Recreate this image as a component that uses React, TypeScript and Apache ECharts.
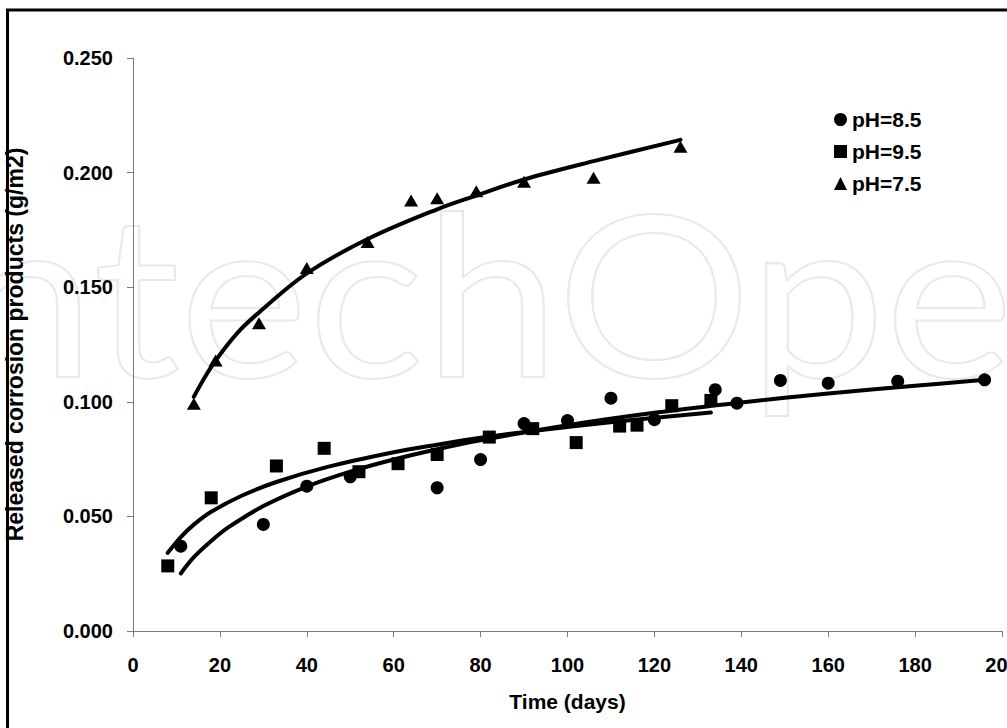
import React, { useEffect, useRef } from "react";
import * as echarts from "echarts";

// Measured points (Time in days, released corrosion products in g/m2)
const ph85X = [11, 30, 40, 50, 70, 80, 90, 100, 110, 120, 134, 139, 149, 160, 176, 196];
const ph85Y = [0.037, 0.0465, 0.0632, 0.0673, 0.0625, 0.0748, 0.0905, 0.0918, 0.1016, 0.0922, 0.1053, 0.0994, 0.1093, 0.1081, 0.109, 0.1096];

const ph95X = [8, 18, 33, 44, 52, 61, 70, 82, 92, 102, 112, 116, 124, 133];
const ph95Y = [0.0284, 0.0581, 0.072, 0.0797, 0.0695, 0.073, 0.077, 0.0846, 0.0883, 0.0822, 0.0894, 0.0898, 0.0983, 0.1006];

const ph75X = [14, 19, 29, 40, 54, 64, 70, 79, 90, 106, 126];
const ph75Y = [0.0991, 0.118, 0.1343, 0.1584, 0.1697, 0.1878, 0.1888, 0.1919, 0.196, 0.1977, 0.2113];

// Trend curves
const fit85X = [11, 14, 18, 22, 30, 40, 50, 60, 70, 80, 100, 120, 140, 160, 180, 196];
const fit85Y = [0.0251, 0.0322, 0.0393, 0.0453, 0.0545, 0.063, 0.0695, 0.0748, 0.0793, 0.0832, 0.0898, 0.0952, 0.0997, 0.1036, 0.107, 0.1096];

const fit95X = [8, 11, 14, 18, 25, 33, 45, 60, 70, 80, 92, 112, 133];
const fit95Y = [0.0341, 0.041, 0.0464, 0.052, 0.059, 0.065, 0.0717, 0.078, 0.0813, 0.0843, 0.0873, 0.0915, 0.0953];

const fit75X = [14, 16, 19, 24, 29, 40, 54, 70, 79, 90, 106, 126];
const fit75Y = [0.1022, 0.109, 0.118, 0.13, 0.139, 0.156, 0.171, 0.184, 0.19, 0.197, 0.205, 0.2143];

const xTicks = [0, 20, 40, 60, 80, 100, 120, 140, 160, 180, 200];
const yTicks = [0, 0.05, 0.1, 0.15, 0.2, 0.25];

const seriesNames = ["pH=8.5", "pH=9.5", "pH=7.5"];

const FONT = "'Liberation Sans', Arial, Helvetica, sans-serif";

const zip = (xs: number[], ys: number[]) => xs.map((x, i) => [x, ys[i]]);

export default function App() {
  const ref = useRef<HTMLDivElement>(null);
  useEffect(() => {
    const chart = echarts.init(ref.current as HTMLDivElement, null, { renderer: "svg" });
    const axisLine = { lineStyle: { color: "#7a7a7a", width: 1 } };
    const labelStyle = { color: "#000", fontWeight: "bold" as const, fontSize: 20, fontFamily: FONT };
    const lineSeries = (name: string, xs: number[], ys: number[]) => ({
      name,
      type: "line",
      data: zip(xs, ys),
      smooth: 0.35,
      showSymbol: false,
      symbol: "none",
      silent: true,
      z: 3,
      lineStyle: { color: "#000", width: 4, cap: "round", opacity: 1 },
    });
    chart.setOption({
      animation: false,
      backgroundColor: "#fff",
      graphic: [
        {
          type: "text",
          x: -107,
          y: 178,
          scaleX: 1.08,
          z: -10,
          silent: true,
          style: {
            text: "IntechOpen",
            x: 0,
            y: 0,
            fontFamily: "Lato, 'Open Sans', sans-serif",
            fontSize: 225,
            fill: "rgba(0,0,0,0)",
            stroke: "#e9e9e9",
            lineWidth: 2,
          },
        },
        {
          type: "rect",
          shape: { x: 7.5, y: 10, width: 1200, height: 900 },
          silent: true,
          z: 100,
          style: { fill: "none", stroke: "#000", lineWidth: 3 },
        },
      ],
      legend: {
        data: seriesNames,
        orient: "vertical",
        left: 829,
        top: 104,
        itemWidth: 13,
        itemHeight: 13,
        itemGap: 11,
        textStyle: { color: "#000", fontWeight: "bold", fontSize: 21, fontFamily: FONT },
      },
      grid: { left: 133, right: 5, top: 58, bottom: 97, containLabel: false, outerBoundsMode: "none" },
      xAxis: {
        type: "value",
        min: xTicks[0],
        max: xTicks[xTicks.length - 1],
        interval: xTicks[1] - xTicks[0],
        name: "Time (days)",
        nameLocation: "middle",
        nameGap: 60,
        nameTextStyle: { color: "#000", fontWeight: "bold", fontSize: 21, fontFamily: FONT },
        axisLine,
        axisTick: { show: true, inside: false, length: 6, lineStyle: { color: "#7a7a7a" } },
        axisLabel: { ...labelStyle, margin: 24, showMaxLabel: true, hideOverlap: false },
        splitLine: { show: false },
      },
      yAxis: {
        type: "value",
        min: yTicks[0],
        max: yTicks[yTicks.length - 1],
        interval: yTicks[1] - yTicks[0],
        name: "Released corrosion products (g/m2)",
        nameLocation: "middle",
        nameGap: 107,
        nameTextStyle: { color: "#000", fontWeight: "bold", fontSize: 23, fontFamily: FONT },
        axisLine: { show: true, ...axisLine },
        axisTick: { show: true, inside: false, length: 6, lineStyle: { color: "#7a7a7a" } },
        axisLabel: { ...labelStyle, margin: 20, formatter: (v: number) => v.toFixed(3) },
        splitLine: { show: false },
      },
      series: [
        lineSeries("fit pH=8.5", fit85X, fit85Y),
        lineSeries("fit pH=9.5", fit95X, fit95Y),
        lineSeries("fit pH=7.5", fit75X, fit75Y),
        {
          name: seriesNames[0],
          type: "scatter",
          symbol: "circle",
          symbolSize: 13,
          itemStyle: { color: "#000", opacity: 1 },
          data: zip(ph85X, ph85Y),
          z: 4,
        },
        {
          name: seriesNames[1],
          type: "scatter",
          symbol: "rect",
          symbolSize: 13,
          itemStyle: { color: "#000", opacity: 1 },
          data: zip(ph95X, ph95Y),
          z: 4,
        },
        {
          name: seriesNames[2],
          type: "scatter",
          symbol: "triangle",
          symbolSize: [14, 12],
          itemStyle: { color: "#000", opacity: 1 },
          data: zip(ph75X, ph75Y),
          z: 4,
        },
      ],
    });
    return () => chart.dispose();
  }, []);
  return (
    <div
      ref={ref}
      style={{ position: "fixed", left: 0, top: 0, width: 1007, height: 728, background: "#fff" }}
    />
  );
}
